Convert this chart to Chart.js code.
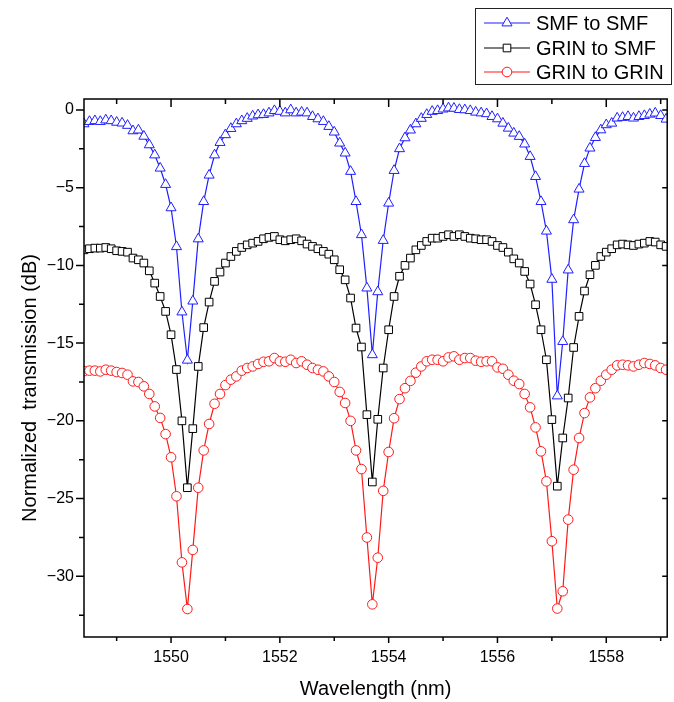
<!DOCTYPE html>
<html>
<head>
<meta charset="utf-8">
<script src="https://cdn.jsdelivr.net/npm/chart.js@4/dist/chart.umd.min.js"></script>
<style>
  html, body { margin: 0; padding: 0; background: #fff; }
  #wrap { width: 674px; height: 702px; }
</style>
</head>
<body>
<div id="wrap"><canvas id="chart" width="674" height="702"></canvas></div>
<script>
// wavelength grid (nm), one value per measured point
const wavelength = [
  1548.4, 1548.5, 1548.6, 1548.7, 1548.8, 1548.9,
  1549.0, 1549.1, 1549.2, 1549.3, 1549.4, 1549.5, 1549.6, 1549.7, 1549.8, 1549.9,
  1550.0, 1550.1, 1550.2, 1550.3, 1550.4, 1550.5, 1550.6, 1550.7, 1550.8, 1550.9,
  1551.0, 1551.1, 1551.2, 1551.3, 1551.4, 1551.5, 1551.6, 1551.7, 1551.8, 1551.9,
  1552.0, 1552.1, 1552.2, 1552.3, 1552.4, 1552.5, 1552.6, 1552.7, 1552.8, 1552.9,
  1553.0, 1553.1, 1553.2, 1553.3, 1553.4, 1553.5, 1553.6, 1553.7, 1553.8, 1553.9,
  1554.0, 1554.1, 1554.2, 1554.3, 1554.4, 1554.5, 1554.6, 1554.7, 1554.8, 1554.9,
  1555.0, 1555.1, 1555.2, 1555.3, 1555.4, 1555.5, 1555.6, 1555.7, 1555.8, 1555.9,
  1556.0, 1556.1, 1556.2, 1556.3, 1556.4, 1556.5, 1556.6, 1556.7, 1556.8, 1556.9,
  1557.0, 1557.1, 1557.2, 1557.3, 1557.4, 1557.5, 1557.6, 1557.7, 1557.8, 1557.9,
  1558.0, 1558.1, 1558.2, 1558.3, 1558.4, 1558.5, 1558.6, 1558.7, 1558.8, 1558.9,
  1559.0, 1559.1
];

// normalized transmission (dB)
const smfToSmf = [
  -0.9, -0.75, -0.7, -0.75, -0.65, -0.7,
  -0.8, -0.85, -1.0, -1.35, -1.3, -1.7, -2.25, -2.9, -3.75, -4.8,
  -6.3, -8.8, -13.0, -16.1, -12.3, -8.3, -5.9, -4.2, -2.9, -2.1,
  -1.6, -1.2, -0.9, -0.7, -0.55, -0.4, -0.32, -0.3, -0.2, -0.05,
  -0.1, -0.2, 0.0, -0.2, -0.15, -0.2, -0.43, -0.58, -0.75, -1.07,
  -1.43, -2.14, -2.78, -3.96, -5.9, -8.03, -11.46, -15.75, -11.7, -8.4,
  -6.0, -3.9, -2.5, -1.8, -1.3, -0.9, -0.55, -0.3, -0.1, -0.05,
  0.05, 0.12, 0.1, 0.02, 0.0, -0.05, -0.15, -0.2, -0.25, -0.43,
  -0.58, -0.86, -1.18, -1.5, -1.71, -2.2, -3.0, -4.29, -5.9, -7.8,
  -10.9, -18.4, -14.9, -10.3, -7.07, -5.1, -3.45, -2.46, -1.78, -1.29,
  -0.96, -0.86, -0.53, -0.49, -0.43, -0.53, -0.43, -0.37, -0.28, -0.21,
  -0.37, -0.6
];

const grinToSmf = [
  -9.0, -8.93, -8.89, -8.89, -8.85, -8.93,
  -9.06, -9.1, -9.15, -9.53, -9.64, -9.85, -10.35, -11.14, -12.0, -12.96,
  -14.46, -16.7, -20.0, -24.3, -20.5, -16.5, -14.0, -12.36, -11.03, -10.43,
  -9.85, -9.43, -9.1, -8.85, -8.68, -8.57, -8.46, -8.29, -8.2, -8.14,
  -8.35, -8.42, -8.35, -8.29, -8.42, -8.63, -8.78, -8.93, -9.1, -9.28,
  -9.64, -10.28, -10.93, -12.1, -14.03, -15.25, -19.6, -23.93, -19.9, -16.6,
  -14.14, -12.0, -10.7, -10.0, -9.53, -9.0, -8.72, -8.46, -8.25, -8.25,
  -8.14, -8.03, -8.14, -8.03, -8.14, -8.25, -8.29, -8.35, -8.35, -8.46,
  -8.72, -8.85, -9.15, -9.58, -9.85, -10.39, -11.2, -12.53, -14.14, -16.07,
  -19.92, -24.2, -21.1, -18.53, -15.28, -13.28, -11.65, -10.6, -10.0, -9.43,
  -9.15, -8.93, -8.68, -8.63, -8.68, -8.72, -8.63, -8.57, -8.46, -8.5,
  -8.68, -8.78
];

const grinToGrin = [
  -16.8, -16.77, -16.77, -16.82, -16.71, -16.77,
  -16.86, -16.92, -17.03, -17.46, -17.5, -17.78, -18.27, -19.07, -19.81, -20.85,
  -22.34, -24.85, -29.1, -32.1, -28.3, -24.3, -21.9, -20.2, -18.9, -18.27,
  -17.7, -17.35, -17.14, -16.77, -16.6, -16.5, -16.34, -16.2, -16.17, -15.96,
  -16.17, -16.2, -16.07, -16.28, -16.17, -16.39, -16.6, -16.71, -16.82, -17.14,
  -17.5, -18.14, -18.85, -20.0, -21.9, -23.1, -27.5, -31.8, -28.8, -24.5,
  -22.0, -19.83, -18.6, -17.9, -17.43, -16.9, -16.5, -16.17, -16.07, -16.07,
  -16.17, -15.92, -15.85, -16.07, -15.96, -15.96, -16.13, -16.2, -16.17, -16.17,
  -16.56, -16.65, -17.03, -17.42, -17.63, -18.27, -19.13, -20.42, -21.96, -23.89,
  -27.74, -32.07, -30.96, -26.35, -23.14, -21.1, -19.5, -18.49, -17.9, -17.42,
  -17.03, -16.71, -16.43, -16.39, -16.43, -16.5, -16.39, -16.28, -16.34, -16.43,
  -16.6, -16.71
];

const seriesNames = ['SMF to SMF', 'GRIN to SMF', 'GRIN to GRIN'];
const seriesColors = ['#1f1fff', '#000000', '#ff1a1a'];
const markerStyles = ['triangle', 'rect', 'circle'];
const markerSizes = [5.8, 5.4, 4.8];

// axis ticks
const xTickValues = [1549, 1550, 1551, 1552, 1553, 1554, 1555, 1556, 1557, 1558, 1559];
const xLabelled = [1550, 1552, 1554, 1556, 1558];
const yTickValues = [0, -2.5, -5, -7.5, -10, -12.5, -15, -17.5, -20, -22.5, -25, -27.5, -30, -32.5];
const yLabelled = [0, -5, -10, -15, -20, -25, -30];
const yTitle = 'Normalized  transmission (dB)';

const FONT = "'Liberation Sans', Arial, sans-serif";

function toPoints(values) {
  return wavelength.map((w, i) => ({ x: w, y: values[i] }));
}

// Origin-like box frame with outward ticks bottom/left, inward ticks top/right
const frameTicks = {
  id: 'frameTicks',
  afterDatasetsDraw(chart) {
    const { ctx, chartArea: a, scales: { x, y } } = chart;
    ctx.save();
    ctx.strokeStyle = '#000';
    ctx.lineWidth = 1.5;
    ctx.beginPath();
    xTickValues.forEach(v => {
      const px = x.getPixelForValue(v);
      const major = xLabelled.includes(v);
      ctx.moveTo(px, a.bottom);
      ctx.lineTo(px, a.bottom + (major ? 6 : 4));
      ctx.moveTo(px, a.top);
      ctx.lineTo(px, a.top + (major ? 8 : 5));
    });
    yTickValues.forEach(v => {
      const py = y.getPixelForValue(v);
      const major = yLabelled.includes(v);
      ctx.moveTo(a.left, py);
      ctx.lineTo(a.left - (major ? 8 : 5), py);
      if (major) {
        ctx.moveTo(a.right, py);
        ctx.lineTo(a.right - 5, py);
      }
    });
    ctx.stroke();
    ctx.strokeRect(a.left, a.top, a.right - a.left, a.bottom - a.top);

    // y title sits a bit below the middle of the axis, as in the original
    ctx.translate(30, 388);
    ctx.rotate(-Math.PI / 2);
    ctx.font = '20px ' + FONT;
    ctx.fillStyle = '#000';
    ctx.textAlign = 'center';
    ctx.textBaseline = 'middle';
    ctx.fillText(yTitle, 0, 0);
    ctx.restore();
  }
};

function drawMarker(ctx, style, r, cx, cy) {
  ctx.beginPath();
  if (style === 'triangle') {
    ctx.moveTo(cx, cy - r);
    ctx.lineTo(cx + r * 0.866, cy + r * 0.5);
    ctx.lineTo(cx - r * 0.866, cy + r * 0.5);
    ctx.closePath();
  } else if (style === 'rect') {
    const s = r * Math.SQRT1_2;
    ctx.rect(cx - s, cy - s, 2 * s, 2 * s);
  } else {
    ctx.arc(cx, cy, r, 0, Math.PI * 2);
  }
  ctx.fill();
  ctx.stroke();
}

// boxed legend in the top right corner
const boxLegend = {
  id: 'boxLegend',
  afterDraw(chart) {
    const ctx = chart.ctx;
    const box = { x: 475.5, y: 8.5, w: 196, h: 76 };
    ctx.save();
    ctx.strokeStyle = '#222';
    ctx.lineWidth = 1;
    ctx.strokeRect(box.x, box.y, box.w, box.h);
    ctx.font = '20px ' + FONT;
    ctx.textBaseline = 'middle';
    ctx.textAlign = 'left';
    const rows = [23, 48, 72];
    seriesNames.forEach((name, i) => {
      const yy = rows[i];
      ctx.strokeStyle = seriesColors[i];
      ctx.lineWidth = 1.2;
      ctx.beginPath();
      ctx.moveTo(484, yy);
      ctx.lineTo(530, yy);
      ctx.stroke();
      ctx.fillStyle = '#fff';
      ctx.lineWidth = 1;
      drawMarker(ctx, markerStyles[i], markerSizes[i], 507, yy);
      ctx.fillStyle = '#000';
      ctx.fillText(name, 536, yy + 1);
    });
    ctx.restore();
  }
};

const datasets = [smfToSmf, grinToSmf, grinToGrin].map((vals, i) => ({
  label: seriesNames[i],
  data: toPoints(vals),
  borderColor: seriesColors[i],
  borderWidth: 1.2,
  pointStyle: markerStyles[i],
  pointRadius: markerSizes[i],
  pointBorderWidth: 1,
  pointBorderColor: seriesColors[i],
  pointBackgroundColor: '#ffffff',
  pointHoverRadius: markerSizes[i],
  tension: 0,
  fill: false,
  clip: 0
}));

new Chart(document.getElementById('chart').getContext('2d'), {
  type: 'line',
  data: { datasets },
  options: {
    responsive: false,
    animation: false,
    events: [],
    layout: { padding: { top: 99, right: 1, left: 0, bottom: 0 } },
    plugins: { legend: { display: false }, tooltip: { enabled: false } },
    scales: {
      x: {
        type: 'linear',
        min: 1548.4,
        max: 1559.12,
        grid: { display: false, drawTicks: false },
        border: { display: false },
        ticks: {
          stepSize: 1,
          includeBounds: false,
          autoSkip: false,
          maxRotation: 0,
          padding: 11,
          color: '#000',
          font: { family: FONT, size: 16 },
          callback: v => (xLabelled.includes(v) ? String(v) : '')
        },
        title: {
          display: true,
          text: 'Wavelength (nm)',
          color: '#000',
          font: { family: FONT, size: 20 },
          padding: { top: 0, bottom: 1 }
        },
        afterFit: s => { s.height = 65; }
      },
      y: {
        type: 'linear',
        min: -33.9,
        max: 0.7,
        grid: { display: false, drawTicks: false },
        border: { display: false },
        ticks: {
          stepSize: 5,
          includeBounds: false,
          padding: 10,
          color: '#000',
          font: { family: FONT, size: 16 },
          callback: v => String(v).replace('-', '\u2212')
        },
        afterFit: s => { s.width = 84; }
      }
    }
  },
  plugins: [frameTicks, boxLegend]
});
</script>
</body>
</html>
